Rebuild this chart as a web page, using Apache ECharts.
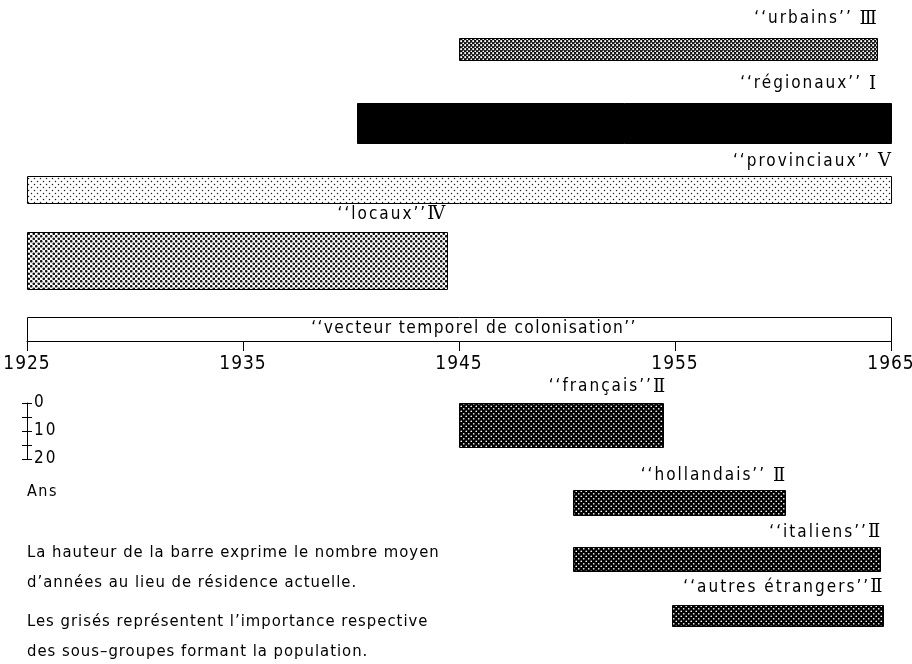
<!DOCTYPE html>
<html><head><meta charset="utf-8">
<script src="https://cdn.jsdelivr.net/npm/echarts@6/dist/echarts.min.js"></script>
<style>html,body{margin:0;padding:0;background:#fff}#c{width:912px;height:664px}</style>
</head><body><div id="c"></div>
<script>
// ---- data ----
const groupNames = ['urbains','régionaux','provinciaux','locaux','vecteur temporel de colonisation','français','hollandais','italiens','autres étrangers'];
const groupClass = ['Ⅲ','Ⅰ','Ⅴ','Ⅳ','','Ⅱ','Ⅱ','Ⅱ','Ⅱ'];
const labelSep   = [' ',' ',' ','','','',' ','',''];
const startYear = [1945.0, 1940.3, 1925, 1925, 1925, 1945.0, 1950.3, 1950.3, 1954.85];
const endYear   = [1964.35, 1965, 1965, 1944.45, 1965, 1954.45, 1960.1, 1964.5, 1964.6];
const meanYears = [7.8, 14.3, 9.6, 20.2, 8.6, 15.8, 8.9, 8.4, 7.6];
const yearTicks = [1925, 1935, 1945, 1955, 1965];
const scaleTicks = [0, 10, 20];

// ---- layout (axis units = years of height, bar bottom relative to the time axis) ----
const PX_PER_YEAR = 2.8;
const AXIS_Y = 341;
const rowBottom = [100.4, 70.7, 49.3, 18.9, 0, -37.9, -62.1, -81.8, -101.8];
const labelGap  = [19, 19, 15, 17, 0, 16, 14, 14, 17];
const labelShift = [0, -15, 0, -2, 0, 2, 0, 0, 0];
const FONT = '"DejaVu Sans Condensed","Liberation Sans Narrow",sans-serif';
const SERIF = '"DejaVu Serif","Liberation Serif",serif';

// letter spacing emulation (the reference typesetting is letter-spaced)
const SPACING = {'19px': 1, '17px': 2, '17.2px': 1.4, '16.5px': 1, '16px': 1.5, '18px': 0};
(function () {
  const P = CanvasRenderingContext2D.prototype;
  if (!('letterSpacing' in P)) return;
  const of = P.fillText, om = P.measureText;
  function sp(ctx) { const m = /([\d.]+px)/.exec(ctx.font); const v = m && SPACING[m[1]]; ctx.letterSpacing = (v || 0) + 'px'; }
  P.fillText = function () { sp(this); return of.apply(this, arguments); };
  P.measureText = function () { sp(this); return om.apply(this, arguments); };
})();

function pat(size, bg, fg, r) {
  const c = document.createElement('canvas'); c.width = c.height = size;
  const g = c.getContext('2d'); g.fillStyle = bg; g.fillRect(0, 0, size, size);
  g.fillStyle = fg;
  [[size/4, size/4], [3*size/4, 3*size/4]].forEach(p => { g.beginPath(); g.arc(p[0], p[1], r, 0, Math.PI*2); g.fill(); });
  return {image: c, repeat: 'repeat'};
}
const darkDots = pat(5, '#000', '#fff', 0.85);
const fills = [
  pat(4.6, '#111', '#fff', 1.05),
  '#000',
  pat(6, '#fff', '#222', 0.75),
  pat(5, '#fff', '#111', 1.3),
  '#fff',
  darkDots, darkDots, darkDots, darkDots
];

const baseYear = yearTicks[0];
const data = groupNames.map((n, i) => [startYear[i] - baseYear, endYear[i] - baseYear, meanYears[i]]);

const chart = echarts.init(document.getElementById('c'), null, {renderer: 'canvas'});
chart.setOption({
  animation: false,
  backgroundColor: '#fff',
  grid: [
    {left: 27, right: 21, top: 0, height: AXIS_Y, containLabel: false, outerBoundsMode: 'none'},
    {left: 27, top: 403, width: 20, height: 20 * PX_PER_YEAR, containLabel: false, outerBoundsMode: 'none'}
  ],
  xAxis: [
    {type: 'value', gridIndex: 0, position: 'bottom', min: 0, max: yearTicks[yearTicks.length - 1] - baseYear, interval: 10,
     axisLine: {show: true, onZero: false, lineStyle: {color: '#000', width: 1}},
     axisTick: {show: true, length: 10, lineStyle: {color: '#000'}},
     axisLabel: {show: true, color: '#000', fontSize: 19, fontFamily: FONT, margin: 13,
       formatter: v => String(yearTicks[Math.round(v / 10)])},
     splitLine: {show: false}},
    {type: 'value', gridIndex: 1, min: 0, max: 1, show: false}
  ],
  yAxis: [
    {type: 'value', gridIndex: 0, min: 0, max: AXIS_Y / PX_PER_YEAR, show: false},
    {type: 'value', gridIndex: 1, min: 0, max: 20, interval: 5, inverse: true, position: 'left',
     axisLine: {show: true, lineStyle: {color: '#000'}},
     axisTick: {show: true, inside: true, length: 5, lineStyle: {color: '#000'}},
     axisLabel: {show: true, inside: true, color: '#000', fontSize: 17, fontFamily: FONT, margin: 7,
       formatter: v => scaleTicks.indexOf(v) >= 0 ? String(v) : ''},
     splitLine: {show: false}},
    {type: 'value', gridIndex: 1, min: 0, max: 20, interval: 5, inverse: true, position: 'left',
     axisLine: {show: false},
     axisTick: {show: true, inside: false, length: 5, lineStyle: {color: '#000'}},
     axisLabel: {show: false}, splitLine: {show: false}}
  ],
  graphic: [
    {type: 'text', left: 27, top: 483, style: {text: 'Ans', font: '16px ' + FONT, fill: '#000'}},
    {type: 'text', left: 27, top: 544, style: {text: 'La hauteur de la barre exprime le nombre moyen', font: '16.5px ' + FONT, fill: '#000'}},
    {type: 'text', left: 27, top: 574, style: {text: 'd’années au lieu de résidence actuelle.', font: '16.5px ' + FONT, fill: '#000'}},
    {type: 'text', left: 27, top: 613, style: {text: 'Les grisés représentent l’importance respective', font: '16.5px ' + FONT, fill: '#000'}},
    {type: 'text', left: 27, top: 643, style: {text: 'des sous–groupes formant la population.', font: '16.5px ' + FONT, fill: '#000'}}
  ],
  series: [{
    type: 'custom',
    xAxisIndex: 0, yAxisIndex: 0,
    clip: false,
    data: data,
    encode: {x: [0, 1]},
    renderItem: function (params, api) {
      const i = params.dataIndex;
      const s = api.coord([api.value(0), rowBottom[i]]);
      const e = api.coord([api.value(1), rowBottom[i]]);
      const h = api.size([0, api.value(2)])[1];
      const top = s[1] - h;
      const children = [{
        type: 'rect',
        shape: {x: Math.round(s[0]) + 0.5, y: Math.round(top) + 0.5, width: Math.round(e[0] - s[0]), height: Math.round(h)},
        style: {fill: fills[i], stroke: '#000', lineWidth: 1}
      }];
      if (!groupClass[i]) {
        children.push({type: 'text', style: {
          text: '‘‘' + groupNames[i] + '’’', x: (s[0] + e[0]) / 2 + 15, y: top + h / 2,
          align: 'center', verticalAlign: 'middle', font: '17.2px ' + FONT, fill: '#000'}});
      } else {
        children.push({type: 'text', style: {
          text: '{n|‘‘' + groupNames[i] + '’’' + labelSep[i] + '}{r|' + groupClass[i] + '}',
          x: e[0] + labelShift[i], y: top - labelGap[i], align: 'right', verticalAlign: 'middle',
          rich: {
            n: {font: '17px ' + FONT, fill: '#000'},
            r: {font: '18px ' + SERIF, fill: '#000'}
          }}});
      }
      return {type: 'group', children: children};
    }
  }]
});
</script>
</body></html>
